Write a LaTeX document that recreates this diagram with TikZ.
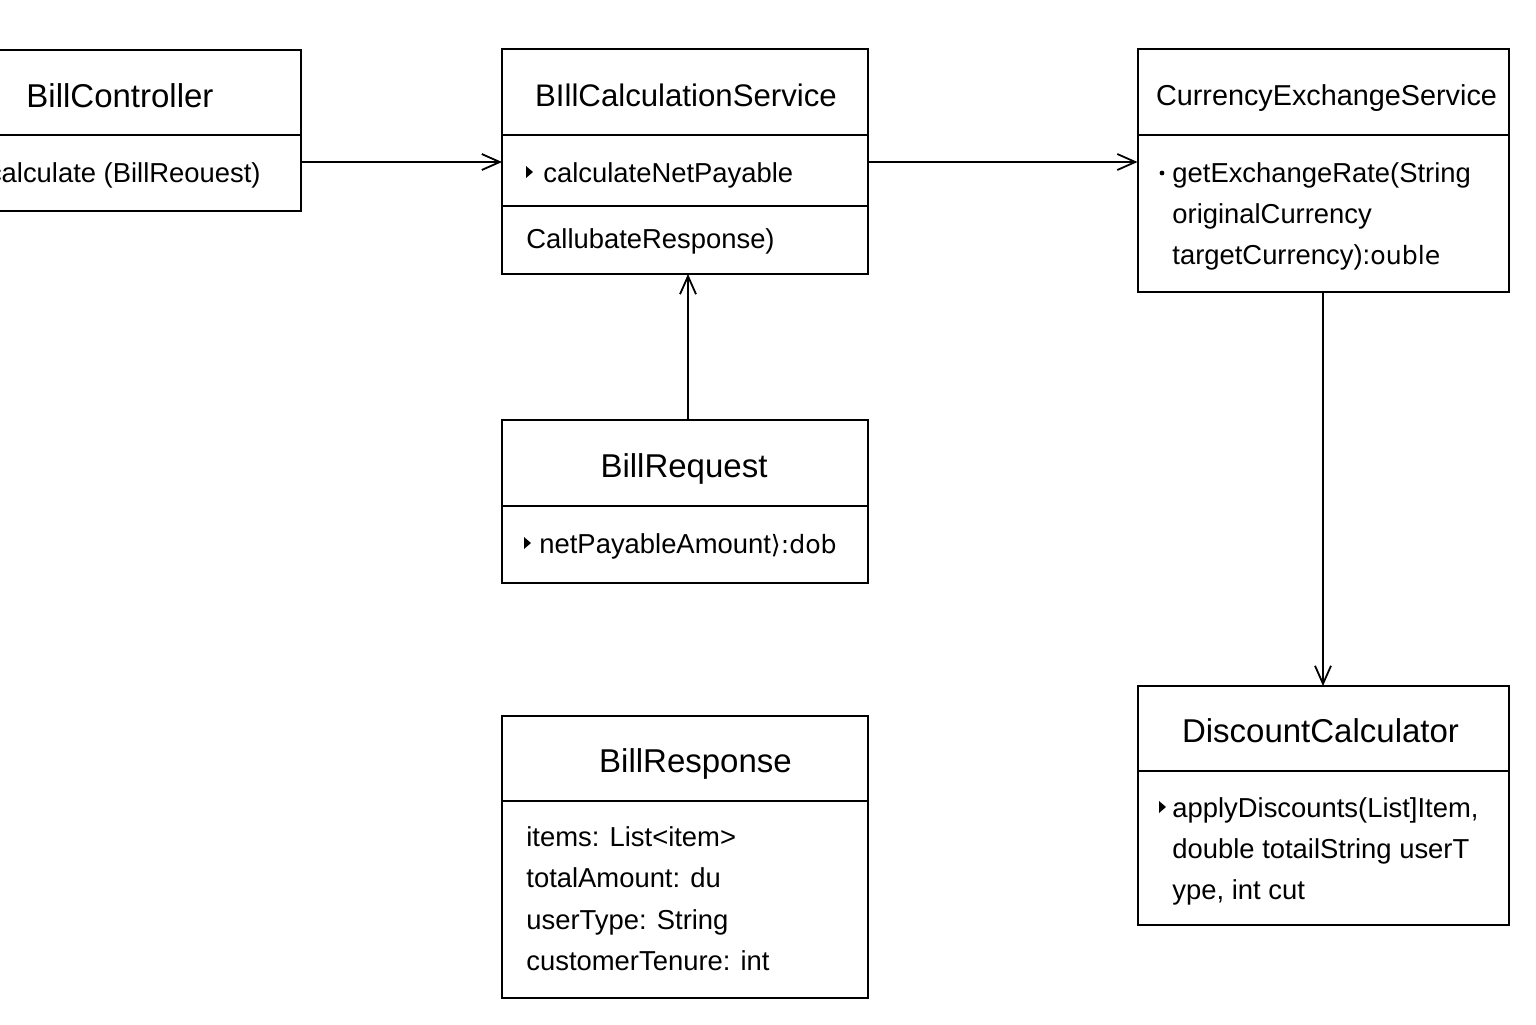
\documentclass[tikz,border=0pt]{standalone}
\usepackage{fontspec}
\setmainfont{Liberation Sans}
\newfontfamily\dvfont{DejaVu Sans}
\usetikzlibrary{arrows.meta,calc}
\tikzset{
  cls/.style={draw, line width=1pt, inner sep=0pt, outer sep=0pt, rectangle},
  ttl/.style={anchor=base, inner sep=0pt, font=\fontsize{16.5}{20}\selectfont},
  mem/.style={anchor=base west, inner sep=0pt, font=\fontsize{13.7}{16}\selectfont},
  divline/.style={line width=1pt},
  arr/.style={line width=0.9pt, -{Straight Barb[length=9pt,width=8pt,line width=0.9pt]}},
  tri/.style={fill=black}
}
\begin{document}
\begin{tikzpicture}[x=0.5pt,y=-0.5pt]
\useasboundingbox (0,0) rectangle (1536,1024);
\clip (0,0) rectangle (1536,1024);
\fill[white] (0,0) rectangle (1536,1024);

% BillController
\node[cls, minimum width=181pt, minimum height=80.5pt] (bc) at (120,130.5) {};
\draw[divline] (-61,135) -- (301,135);
\node[ttl] (bct) at (120,107) {BillController};
\node[mem, anchor=base east] (bcm) at (261,182) {calculate (BillReouest)};

% BillCalculationService
\node[cls, minimum width=183pt, minimum height=112.5pt] (bcs) at (685,161.5) {};
\draw[divline] (502,135) -- (868,135);
\draw[divline] (502,206) -- (868,206);
\node[ttl, font=\fontsize{15.6}{19}\selectfont] (bcst) at (686,106) {BIllCalculationService};
\fill[tri] (526,166) -- (533,172) -- (526,178) -- cycle;
\node[mem] (bcsm1) at (543,182) {calculateNetPayable};
\node[mem] (bcsm2) at (526,248) {CallubateResponse)};

% CurrencyExchangeService
\node[cls, minimum width=185.5pt, minimum height=121.5pt] (ces) at (1323,170.5) {};
\draw[divline] (1138,135) -- (1509,135);
\node[ttl, font=\fontsize{14.4}{18}\selectfont] (cest) at (1326.5,105) {CurrencyExchangeService};
\fill[tri] (1162,173) circle (2.4);
\node[mem] (cesm1) at (1172,182) {getExchangeRate(String};
\node[mem] (cesm2) at (1172,223) {originalCurrency};
\node[mem] (cesm3) at (1172,264) {targetCurrency):{\dvfont\fontsize{12.6}{16}\selectfont ouble}};

% BillRequest
\node[cls, minimum width=183pt, minimum height=81.5pt] (brq) at (685,501.5) {};
\draw[divline] (502,506) -- (868,506);
\node[ttl] (brqt) at (684,477) {BillRequest};
\fill[tri] (524,537) -- (531,543) -- (524,549) -- cycle;
\node[mem] (brqm) at (539,553) {netPayableAmount{\dvfont\fontsize{12.6}{16}\selectfont ⟩:dob}};

% BillResponse
\node[cls, minimum width=183pt, minimum height=141pt] (brs) at (685,857) {};
\draw[divline] (502,801) -- (868,801);
\node[ttl] (brst) at (695.5,772) {BillResponse};
\node[mem] (brs1) at (526,846) {items: List<item>};
\node[mem] (brs2) at (526,887) {totalAmount: du};
\node[mem] (brs3) at (526,929) {userType: String};
\node[mem] (brs4) at (526,970) {customerTenure: int};

% DiscountCalculator
\node[cls, minimum width=185.5pt, minimum height=119.5pt] (dc) at (1323,805.5) {};
\draw[divline] (1138,771) -- (1509,771);
\node[ttl] (dct) at (1320.5,742) {DiscountCalculator};
\fill[tri] (1159,801) -- (1166,807) -- (1159,813) -- cycle;
\node[mem] (dc1) at (1172,817) {applyDiscounts(List]Item,};
\node[mem] (dc2) at (1172,858) {double totailString userT};
\node[mem] (dc3) at (1172,899) {ype, int cut};

% connectors
\draw[arr] ($(bc.north east)+(0,112)$) -- ($(bcs.north west)+(0,113)$);
\draw[arr] ($(bcs.north east)+(0,113)$) -- ($(ces.north west)+(0,113)$);
\draw[arr] ($(brq.north)+(3,0)$) -- ($(bcs.south)+(3,0)$);
\draw[arr] (ces.south) -- (dc.north);
\end{tikzpicture}
\end{document}
